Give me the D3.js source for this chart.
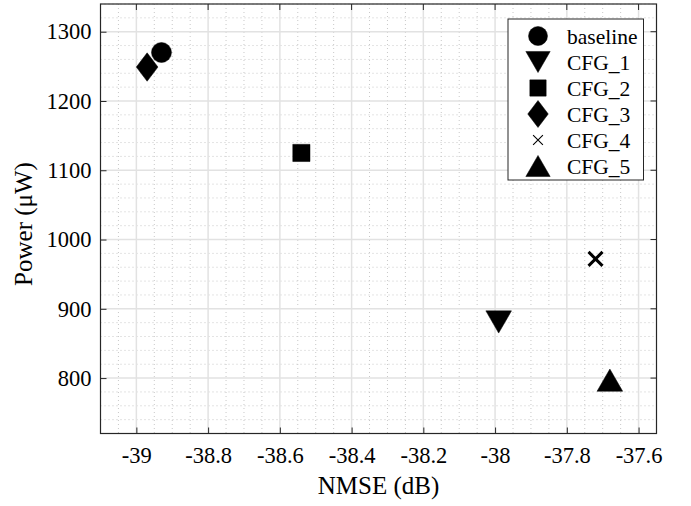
<!DOCTYPE html>
<html>
<head>
<meta charset="utf-8">
<script src="https://cdn.jsdelivr.net/npm/d3@7"></script>
<style>
  body { margin: 0; background: #fff; }
  svg text { font-family: "Liberation Serif", "Times New Roman", "DejaVu Serif", serif !important; fill: #000; }
</style>
</head>
<body>
<div id="chart-area"></div>
<script>
const W = 691, H = 506
const MARGIN = { LEFT: 100.5, RIGHT: 34.5, TOP: 4, BOTTOM: 72.5 }

// data
const names = ["baseline", "CFG_1", "CFG_2", "CFG_3", "CFG_4", "CFG_5"]
const markers = ["circle", "down", "square", "diamond", "cross", "up"]
const nmse = [-38.93, -37.99, -38.54, -38.97, -37.72, -37.68]
const power = [1270, 881, 1125, 1249, 972, 797]

const xTicks = [-39, -38.8, -38.6, -38.4, -38.2, -38, -37.8, -37.6]
const yTicks = [800, 900, 1000, 1100, 1200, 1300]

const x = d3.scaleLinear()
  .domain([-39.1, -37.55])
  .range([MARGIN.LEFT, W - MARGIN.RIGHT])

const y = d3.scaleLinear()
  .domain([720, 1340])
  .range([H - MARGIN.BOTTOM, MARGIN.TOP])

// marker path around (0,0)
function markerPath(type, s) {
  const p = d3.path()
  if (type === "circle") {
    p.arc(0, 0, s / 2, 0, 2 * Math.PI)
  } else if (type === "square") {
    const h = s * 0.43
    p.rect(-h, -h, 2 * h, 2 * h)
  } else if (type === "diamond") {
    const w = s * 0.54, h = s * 0.71
    p.moveTo(0, -h); p.lineTo(w, 0); p.lineTo(0, h); p.lineTo(-w, 0); p.closePath()
  } else if (type === "down" || type === "up") {
    const w = s * 0.64, h = s * 0.555, d = type === "down" ? 1 : -1
    p.moveTo(-w, -h * d); p.lineTo(w, -h * d); p.lineTo(0, h * d); p.closePath()
  } else if (type === "cross") {
    const h = s * 0.35
    p.moveTo(-h, -h); p.lineTo(h, h); p.moveTo(-h, h); p.lineTo(h, -h)
  }
  return p.toString()
}

const data = names.map((n, i) => ({ name: n, marker: markers[i], nmse: nmse[i], power: power[i] }))

const svg = d3.select("#chart-area").append("svg")
  .attr("width", W)
  .attr("height", H)

// minor grid
const xMinor = d3.range(-39.1, -37.55 + 1e-6, 0.05).filter(v => !xTicks.some(t => Math.abs(t - v) < 1e-6))
const yMinor = d3.range(720, 1341, 20).filter(v => v % 100 !== 0)

const grid = svg.append("g")
grid.selectAll(".xminor").data(xMinor).join("line")
  .attr("x1", d => x(d)).attr("x2", d => x(d))
  .attr("y1", MARGIN.TOP).attr("y2", H - MARGIN.BOTTOM)
  .attr("stroke", "#c8c8c8").attr("stroke-width", 1).attr("stroke-dasharray", "1,3")
grid.selectAll(".yminor").data(yMinor).join("line")
  .attr("x1", MARGIN.LEFT).attr("x2", W - MARGIN.RIGHT)
  .attr("y1", d => y(d)).attr("y2", d => y(d))
  .attr("stroke", "#c8c8c8").attr("stroke-width", 1).attr("stroke-dasharray", "1,3")

// major grid
grid.selectAll(".xmajor").data(xTicks).join("line")
  .attr("x1", d => x(d)).attr("x2", d => x(d))
  .attr("y1", MARGIN.TOP).attr("y2", H - MARGIN.BOTTOM)
  .attr("stroke", "#e2e2e2").attr("stroke-width", 1.5)
grid.selectAll(".ymajor").data(yTicks).join("line")
  .attr("x1", MARGIN.LEFT).attr("x2", W - MARGIN.RIGHT)
  .attr("y1", d => y(d)).attr("y2", d => y(d))
  .attr("stroke", "#e2e2e2").attr("stroke-width", 1.5)

// axes
const xAxis = g => g
  .attr("transform", `translate(0,${H - MARGIN.BOTTOM})`)
  .call(d3.axisBottom(x).tickValues(xTicks).tickSize(-6).tickPadding(14)
    .tickFormat(d => String(d)))
  .call(g => g.select(".domain").remove())
  .call(g => g.selectAll("text").style("font-size", "22.5px").attr("dy", "0.71em"))

const yAxis = g => g
  .attr("transform", `translate(${MARGIN.LEFT},0)`)
  .call(d3.axisLeft(y).tickValues(yTicks).tickSize(-6).tickPadding(9)
    .tickFormat(d => String(d)))
  .call(g => g.select(".domain").remove())
  .call(g => g.selectAll("text").style("font-size", "22.5px"))

svg.append("g").call(xAxis)
svg.append("g").call(yAxis)

// top / right inward ticks
svg.append("g").selectAll("line").data(yTicks).join("line")
  .attr("x1", W - MARGIN.RIGHT).attr("x2", W - MARGIN.RIGHT - 6)
  .attr("y1", d => y(d)).attr("y2", d => y(d))
  .attr("stroke", "#262626")
svg.append("g").selectAll("line").data(xTicks).join("line")
  .attr("x1", d => x(d)).attr("x2", d => x(d))
  .attr("y1", MARGIN.TOP).attr("y2", MARGIN.TOP + 6)
  .attr("stroke", "#262626")

svg.selectAll(".tick line").attr("stroke", "#262626")

svg.append("rect")
  .attr("x", MARGIN.LEFT).attr("y", MARGIN.TOP)
  .attr("width", W - MARGIN.LEFT - MARGIN.RIGHT)
  .attr("height", H - MARGIN.TOP - MARGIN.BOTTOM)
  .attr("fill", "none").attr("stroke", "#262626").attr("stroke-width", 1.2)

// axis labels
svg.append("text")
  .attr("x", (MARGIN.LEFT + W - MARGIN.RIGHT) / 2)
  .attr("y", 494)
  .attr("text-anchor", "middle")
  .style("font-size", "25px")
  .text("NMSE (dB)")

svg.append("text")
  .attr("transform", "translate(32,224) rotate(-90)")
  .attr("text-anchor", "middle")
  .style("font-size", "25px")
  .text("Power (μW)")

// points
svg.append("g").selectAll("path").data(data).join("path")
  .attr("transform", d => `translate(${x(d.nmse)},${y(d.power)})`)
  .attr("d", d => markerPath(d.marker, 20))
  .attr("fill", d => d.marker === "cross" ? "none" : "#000")
  .attr("stroke", "#000")
  .attr("stroke-width", d => d.marker === "cross" ? 3 : 0.5)

// legend
const legend = svg.append("g")
legend.append("rect")
  .attr("x", 508).attr("y", 19).attr("width", 135.5).attr("height", 161)
  .attr("fill", "#fff").attr("stroke", "#262626").attr("stroke-width", 1)

const rows = legend.selectAll("g.row").data(data).join("g")
  .attr("class", "row")
  .attr("transform", (d, i) => `translate(0,${36 + i * 26})`)
rows.append("path")
  .attr("transform", "translate(538,0)")
  .attr("d", d => markerPath(d.marker, d.marker === "cross" ? 14 : 19))
  .attr("fill", d => d.marker === "cross" ? "none" : "#000")
  .attr("stroke", "#000")
  .attr("stroke-width", d => d.marker === "cross" ? 1.1 : 0.5)
rows.append("text")
  .attr("x", 567)
  .attr("dy", "0.35em")
  .style("font-size", "21.5px")
  .text(d => d.name)
</script>
</body>
</html>
